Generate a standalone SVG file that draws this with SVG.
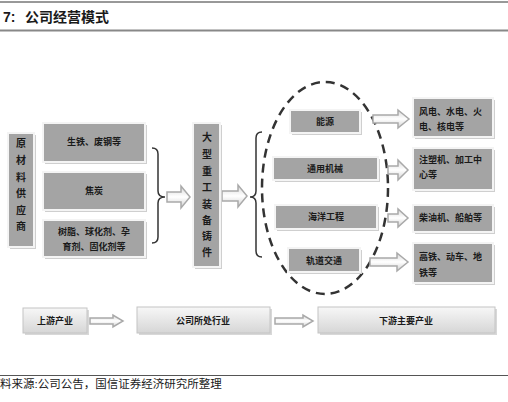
<svg xmlns="http://www.w3.org/2000/svg" width="508" height="402" viewBox="0 0 508 402">
<style>
.t{font-family:"Liberation Sans","Noto Sans CJK SC",sans-serif;fill:#1a1a1a}
.bx{fill:#a4a4a4;stroke:#f4f4f4;stroke-width:2}
.sh{fill:#cfcfcf}
.bt{font-size:9px;font-weight:bold;text-anchor:middle}
.lt{font-size:9px;font-weight:bold}
.vt{font-size:10px;font-weight:bold;text-anchor:middle}
.ar{fill:url(#ag);stroke:#a9a9a9;stroke-width:1.5}
.br{fill:none;stroke:#333;stroke-width:1.5}
.lb{fill:url(#lg);stroke:#c4c4c4;stroke-width:1}
</style>
<defs>
<linearGradient id="ag" x1="0" y1="0" x2="0" y2="1"><stop offset="0" stop-color="#d8d8d8"/><stop offset="0.5" stop-color="#ffffff"/><stop offset="1" stop-color="#d0d0d0"/></linearGradient>
<linearGradient id="lg" x1="0" y1="0" x2="0" y2="1"><stop offset="0" stop-color="#f7f7f7"/><stop offset="1" stop-color="#d6d6d6"/></linearGradient>
</defs>
<rect width="508" height="402" fill="#fff"/>
<g id="title">
<line x1="0" y1="2" x2="508" y2="2" stroke="#333" stroke-width="1"/>
<line x1="0" y1="30.5" x2="508" y2="30.5" stroke="#888" stroke-width="2"/>
<text class="t" x="3" y="22" font-size="14" font-weight="bold">7:</text>
<text class="t" x="25" y="22" font-size="14" font-weight="bold">公司经营模式</text>
</g>
<g id="connectors">
<path class="br" d="M152,148 Q158,148 158,154 V191 Q158,197 165,197 Q158,197 158,203 V237 Q158,243 152,243"/>
<path class="br" d="M262,132 Q256,132 256,138 V191 Q256,197 250,197 Q256,197 256,203 V251 Q256,257 262,257"/>
<ellipse cx="325" cy="188" rx="63" ry="106" fill="none" stroke="#333" stroke-width="2.5" stroke-dasharray="9 6"/>
<path class="ar" d="M167,192 H181 V186 L190,197 L181,208 V202 H167 Z"/>
<path class="ar" d="M222,191 H238 V185 L247,196 L238,207 V201 H222 Z"/>
<path class="ar" d="M373,115 H398 V110 L409,119 L398,128 V123 H373 Z"/>
<path class="ar" d="M388,166 H398 V160 L408,170 L398,180 V174 H388 Z"/>
<path class="ar" d="M388,214 H398 V209 L408,218 L398,227 V222 H388 Z"/>
<path class="ar" d="M370,258 H397 V253 L408,262 L397,271 V266 H370 Z"/>
<path class="ar" d="M90,318 H113 V315 L123,321 L113,327 V324 H90 Z"/>
<path class="ar" d="M275,318 H303 V315 L313,321 L303,327 V324 H275 Z"/>
</g>
<g id="supplier">
<rect class="sh" x="10" y="135" width="26" height="114"/>
<rect class="bx" x="8" y="133" width="26" height="114"/>
<text class="t vt" x="21" y="147">原</text>
<text class="t vt" x="21" y="164">材</text>
<text class="t vt" x="21" y="181">料</text>
<text class="t vt" x="21" y="197">供</text>
<text class="t vt" x="21" y="214">应</text>
<text class="t vt" x="21" y="230">商</text>
</g>
<g id="raw1">
<rect class="sh" x="45" y="125" width="102" height="39"/>
<rect class="bx" x="43" y="123" width="102" height="39"/>
<text class="t bt" x="94" y="145">生铁、废钢等</text>
</g>
<g id="raw2">
<rect class="sh" x="45" y="174" width="102" height="38"/>
<rect class="bx" x="43" y="172" width="102" height="38"/>
<text class="t bt" x="94" y="194">焦炭</text>
</g>
<g id="raw3">
<rect class="sh" x="45" y="222" width="102" height="37"/>
<rect class="bx" x="43" y="220" width="102" height="37"/>
<text class="t bt" x="94" y="235">树脂、球化剂、孕</text>
<text class="t bt" x="94" y="250">育剂、固化剂等</text>
</g>
<g id="castings">
<rect class="sh" x="195" y="125" width="27" height="144"/>
<rect class="bx" x="193" y="123" width="27" height="144"/>
<text class="t vt" x="207" y="141">大</text>
<text class="t vt" x="207" y="158">型</text>
<text class="t vt" x="207" y="175">重</text>
<text class="t vt" x="207" y="191">工</text>
<text class="t vt" x="207" y="208">装</text>
<text class="t vt" x="207" y="224">备</text>
<text class="t vt" x="207" y="240">铸</text>
<text class="t vt" x="207" y="256">件</text>
</g>
<g id="energy">
<rect class="sh" x="292" y="112" width="70" height="23"/>
<rect class="bx" x="290" y="110" width="70" height="23"/>
<text class="t bt" x="325" y="125">能源</text>
</g>
<g id="machinery">
<rect class="sh" x="275" y="159" width="105" height="23"/>
<rect class="bx" x="273" y="157" width="105" height="23"/>
<text class="t bt" x="325" y="172">通用机械</text>
</g>
<g id="marine">
<rect class="sh" x="277" y="207" width="102" height="24"/>
<rect class="bx" x="275" y="205" width="102" height="24"/>
<text class="t bt" x="326" y="220">海洋工程</text>
</g>
<g id="rail">
<rect class="sh" x="290" y="250" width="72" height="24"/>
<rect class="bx" x="288" y="248" width="72" height="24"/>
<text class="t bt" x="324" y="264">轨道交通</text>
</g>
<g id="powerplants">
<rect class="sh" x="415" y="100" width="80" height="39"/>
<rect class="bx" x="413" y="98" width="80" height="39"/>
<text class="t lt" x="419" y="115">风电、水电、火</text>
<text class="t lt" x="419" y="130">电、核电等</text>
</g>
<g id="machines">
<rect class="sh" x="415" y="150" width="80" height="42"/>
<rect class="bx" x="413" y="148" width="80" height="42"/>
<text class="t lt" x="419" y="163">注塑机、加工中</text>
<text class="t lt" x="419" y="178">心等</text>
</g>
<g id="ships">
<rect class="sh" x="415" y="207" width="80" height="27"/>
<rect class="bx" x="413" y="205" width="80" height="27"/>
<text class="t lt" x="419" y="221">柴油机、船舶等</text>
</g>
<g id="trains">
<rect class="sh" x="415" y="245" width="80" height="40"/>
<rect class="bx" x="413" y="243" width="80" height="40"/>
<text class="t lt" x="419" y="260">高铁、动车、地</text>
<text class="t lt" x="419" y="276">铁等</text>
</g>
<g id="upstream">
<rect x="25" y="310" width="64" height="25" fill="#d8d8d8"/>
<rect class="lb" x="23" y="308" width="64" height="25"/>
<text class="t bt" x="55" y="324">上游产业</text>
</g>
<g id="industry">
<rect x="139" y="309" width="133" height="26" fill="#d8d8d8"/>
<rect class="lb" x="137" y="307" width="133" height="26"/>
<text class="t bt" x="203" y="324">公司所处行业</text>
</g>
<g id="downstream">
<rect x="320" y="309" width="177" height="26" fill="#d8d8d8"/>
<rect class="lb" x="318" y="307" width="177" height="26"/>
<text class="t bt" x="406" y="324">下游主要产业</text>
</g>
<g id="footer">
<line x1="0" y1="375.5" x2="508" y2="375.5" stroke="#555" stroke-width="1"/>
<text class="t" x="0" y="388" font-size="11.5">料来源:公司公告，国信证券经济研究所整理</text>
</g>
</svg>
